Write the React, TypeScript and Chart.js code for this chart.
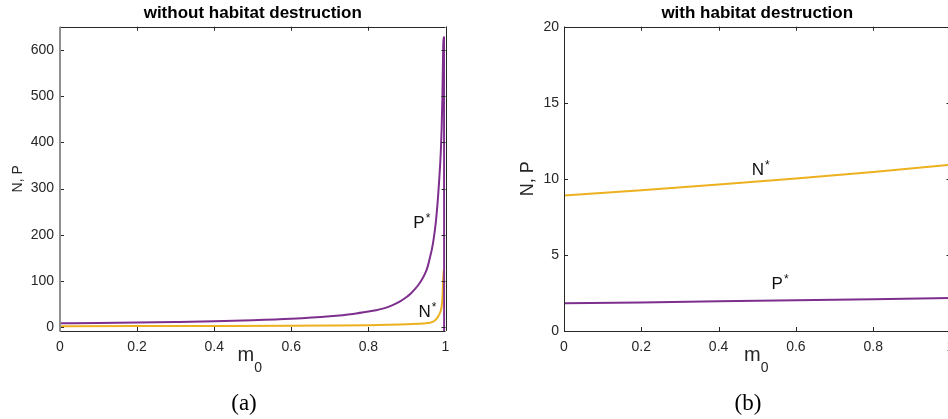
import React, { useEffect, useRef } from 'react';
import { Chart, registerables } from 'chart.js';

Chart.register(...registerables);

const FONT = "'Liberation Sans', Arial, Helvetica, sans-serif";
const SERIF = "'Liberation Serif', 'Times New Roman', serif";
const PURPLE = '#7E2F8E';
const YELLOW = '#EDB120';
const AXIS = '#262626';

// ---- data ----
const xTicks = [0, 0.2, 0.4, 0.6, 0.8, 1];
const leftYTicks = [0, 100, 200, 300, 400, 500, 600];
const rightYTicks = [0, 5, 10, 15, 20];

// left panel: without habitat destruction
const leftPM = [0, 0.1, 0.2, 0.3, 0.4, 0.5, 0.6, 0.7, 0.76, 0.8, 0.82, 0.84, 0.86, 0.88, 0.9, 0.91, 0.92, 0.93, 0.94, 0.95, 0.955, 0.96, 0.965, 0.97, 0.975, 0.98, 0.983, 0.986, 0.988, 0.99, 0.992, 0.9935, 0.9945, 0.9962, 0.9965];
const leftP = [8.5, 9.3, 10.3, 11.5, 13, 15.2, 18.5, 24, 29, 34, 37, 41, 47, 55, 66, 73, 82, 92, 105, 122, 135, 152, 170, 195, 228, 275, 310, 350, 383, 430, 500, 580, 627, 627, -20];
const leftNM = [0, 0.2, 0.4, 0.6, 0.7, 0.8, 0.85, 0.9, 0.93, 0.95, 0.96, 0.97, 0.977, 0.982, 0.987, 0.99, 0.9917, 0.993, 0.994, 0.9955];
const leftN = [2.5, 2.7, 3.0, 3.4, 3.8, 4.5, 5.3, 6.5, 7.8, 9, 10, 13, 19, 25, 34, 45, 59, 80, 106, 124];

// right panel: with habitat destruction
const rightM = [0, 0.2, 0.4, 0.6, 0.8, 1.0];
const rightN = [8.9, 9.25, 9.63, 10.03, 10.45, 10.92];
const rightP = [1.82, 1.88, 1.95, 2.02, 2.09, 2.17];

// curve labels
const leftLabelText = ['P', 'N'];
const leftLabelX = [0.9165, 0.93];
const leftLabelY = [214, 22.3];
const rightLabelText = ['N', 'P'];
const rightLabelX = [0.4857, 0.537];
const rightLabelY = [10.26, 2.76];

const pts = (xs: number[], ys: number[]) => xs.map((x, i) => ({ x, y: ys[i] }));

const framePlugin = {
  id: 'frame',
  afterDatasetsDraw(chart: any, _args: any, opts: any) {
    const { ctx, chartArea: a, scales } = chart;
    const x = scales.x;
    const y = scales.y;
    const tl = 4;
    ctx.save();
    ctx.strokeStyle = AXIS;
    ctx.lineWidth = 1;
    ctx.beginPath();
    for (const v of opts.xTicks) {
      const px = Math.round(x.getPixelForValue(v)) + 0.5;
      ctx.moveTo(px, a.bottom);
      ctx.lineTo(px, a.bottom - tl);
      ctx.moveTo(px, a.top);
      ctx.lineTo(px, a.top + tl);
    }
    for (const v of opts.yTicks) {
      const py = Math.round(y.getPixelForValue(v)) + 0.5;
      ctx.moveTo(a.left, py);
      ctx.lineTo(a.left + tl, py);
      ctx.moveTo(a.right, py);
      ctx.lineTo(a.right - tl, py);
    }
    ctx.stroke();
    // top, right, bottom borders
    ctx.beginPath();
    ctx.moveTo(a.left, Math.round(a.top) + 0.5);
    ctx.lineTo(a.right, Math.round(a.top) + 0.5);
    ctx.moveTo(Math.round(a.right) + 0.5, a.top);
    ctx.lineTo(Math.round(a.right) + 0.5, a.bottom);
    ctx.moveTo(a.left, Math.round(a.bottom) + 0.5);
    ctx.lineTo(a.right, Math.round(a.bottom) + 0.5);
    ctx.stroke();
    // left border
    ctx.strokeStyle = opts.leftColor;
    ctx.lineWidth = opts.leftWidth;
    ctx.beginPath();
    ctx.moveTo(Math.round(a.left) + (opts.leftWidth % 2 ? 0.5 : 0), a.top);
    ctx.lineTo(Math.round(a.left) + (opts.leftWidth % 2 ? 0.5 : 0), a.bottom + 0.5);
    ctx.stroke();
    ctx.restore();
  },
};

const textPlugin = {
  id: 'texts',
  afterDraw(chart: any, _args: any, opts: any) {
    const { ctx, chartArea: a, scales } = chart;
    const x = scales.x;
    const y = scales.y;
    ctx.save();
    ctx.textBaseline = 'alphabetic';
    ctx.textAlign = 'left';
    ctx.fillStyle = AXIS;
    ctx.font = `20px ${FONT}`;
    const mw = ctx.measureText('m').width;
    ctx.font = `14px ${FONT}`;
    const zw = ctx.measureText('0').width;
    const cx = (a.left + a.right) / 2 + opts.mShift;
    const x0 = cx - (mw + zw) / 2;
    ctx.font = `20px ${FONT}`;
    ctx.fillText('m', x0, a.bottom + 30);
    ctx.font = `14px ${FONT}`;
    ctx.fillText('0', x0 + mw, a.bottom + 41);

    ctx.fillStyle = '#111111';
    const texts: string[] = opts.texts;
    texts.forEach((t, i) => {
      const px = x.getPixelForValue(opts.xs[i]);
      const py = y.getPixelForValue(opts.ys[i]);
      ctx.font = `17px ${FONT}`;
      ctx.fillText(t, px, py);
      const w = ctx.measureText(t).width;
      ctx.font = `12px ${FONT}`;
      ctx.fillText('*', px + w + 1, py - 6);
    });
    ctx.restore();
  },
};

function makeConfig(p: {
  title: string;
  datasets: any[];
  yMin: number;
  yMax: number;
  yTicks: number[];
  yWidth: number;
  rightPad: number;
  yTitleSize: number;
  yTitlePad: number;
  yTickPad: number;
  leftColor: string;
  leftWidth: number;
  labels: { texts: string[]; xs: number[]; ys: number[] };
  mShift: number;
}) {
  return {
    type: 'line' as const,
    data: { datasets: p.datasets },
    options: {
      responsive: false,
      animation: false as const,
      devicePixelRatio: 1,
      layout: { padding: { left: 0, top: 0, right: p.rightPad, bottom: 0 } },
      plugins: {
        legend: { display: false },
        tooltip: { enabled: false },
        title: {
          display: true,
          text: p.title,
          fullSize: false,
          color: '#000000',
          font: { family: FONT, size: 17, weight: 'bold' as const },
          padding: { top: 3, bottom: 3.3 },
        },
        frame: { xTicks, yTicks: p.yTicks, leftColor: p.leftColor, leftWidth: p.leftWidth },
        texts: { ...p.labels, mShift: p.mShift },
      },
      scales: {
        x: {
          type: 'linear' as const,
          min: 0,
          max: 1,
          afterBuildTicks: (s: any) => {
            s.ticks = xTicks.map((v) => ({ value: v }));
          },
          afterFit: (s: any) => {
            s.height = 88;
          },
          grid: { display: false, drawTicks: false },
          border: { display: false },
          ticks: {
            font: { family: FONT, size: 14 },
            color: AXIS,
            padding: 8,
            maxRotation: 0,
            autoSkip: false,
            callback: (v: any) => String(v),
          },
        },
        y: {
          type: 'linear' as const,
          min: p.yMin,
          max: p.yMax,
          afterBuildTicks: (s: any) => {
            s.ticks = p.yTicks.map((v) => ({ value: v }));
          },
          afterFit: (s: any) => {
            s.width = p.yWidth;
          },
          grid: { display: false, drawTicks: false },
          border: { display: false },
          ticks: {
            font: { family: FONT, size: 14 },
            color: AXIS,
            padding: p.yTickPad,
            autoSkip: false,
            callback: (v: any) => String(v),
          },
          title: {
            display: true,
            text: 'N, P',
            color: AXIS,
            font: { family: FONT, size: p.yTitleSize },
            padding: { top: p.yTitlePad, bottom: 0 },
          },
        },
      },
    },
    plugins: [framePlugin, textPlugin],
  };
}

const lineDs = (data: any[], color: string, smooth: boolean) => ({
  data,
  borderColor: color,
  backgroundColor: color,
  borderWidth: 2,
  pointRadius: 0,
  tension: 0,
  cubicInterpolationMode: smooth ? ('monotone' as const) : ('default' as const),
  fill: false,
  borderJoinStyle: 'round' as const,
  borderCapStyle: 'butt' as const,
});

export default function App() {
  const leftRef = useRef<HTMLCanvasElement>(null);
  const rightRef = useRef<HTMLCanvasElement>(null);

  useEffect(() => {
    const c1 = new Chart(
      leftRef.current as HTMLCanvasElement,
      makeConfig({
        title: 'without habitat destruction',
        datasets: [lineDs(pts(leftPM, leftP), PURPLE, true), lineDs(pts(leftNM, leftN), YELLOW, true)],
        yMin: -8,
        yMax: 650,
        yTicks: leftYTicks,
        yWidth: 60,
        rightPad: 28.5,
        yTitleSize: 14,
        yTitlePad: 9.6,
        yTickPad: 6,
        leftColor: '#8f8f8f',
        leftWidth: 2,
        labels: { texts: leftLabelText, xs: leftLabelX, ys: leftLabelY },
        mShift: -3,
      }) as any
    );
    const c2 = new Chart(
      rightRef.current as HTMLCanvasElement,
      makeConfig({
        title: 'with habitat destruction',
        datasets: [lineDs(pts(rightM, rightP), PURPLE, false), lineDs(pts(rightM, rightN), YELLOW, false)],
        yMin: 0,
        yMax: 20,
        yTicks: rightYTicks,
        yWidth: 90,
        rightPad: 13.5,
        yTitleSize: 18,
        yTitlePad: 43.2,
        yTickPad: 5,
        leftColor: AXIS,
        leftWidth: 1,
        labels: { texts: rightLabelText, xs: rightLabelX, ys: rightLabelY },
        mShift: -1,
      }) as any
    );
    return () => {
      c1.destroy();
      c2.destroy();
    };
  }, []);

  const caption = (text: string, cx: number): React.ReactElement => (
    <div
      style={{
        position: 'absolute',
        left: cx - 50,
        top: 390,
        width: 100,
        textAlign: 'center',
        fontFamily: SERIF,
        fontSize: 23,
        lineHeight: '26px',
        color: '#000',
      }}
    >
      {text}
    </div>
  );

  return (
    <div
      style={{
        position: 'absolute',
        left: 0,
        top: 0,
        width: 948,
        height: 419,
        overflow: 'hidden',
        background: '#ffffff',
      }}
    >
      <canvas
        ref={leftRef}
        width={474}
        height={419}
        style={{ position: 'absolute', left: 0, top: 0, width: 474, height: 419 }}
      />
      <canvas
        ref={rightRef}
        width={490}
        height={419}
        style={{ position: 'absolute', left: 474, top: 0, width: 490, height: 419 }}
      />
      {caption('(a)', 244)}
      {caption('(b)', 748)}
    </div>
  );
}
